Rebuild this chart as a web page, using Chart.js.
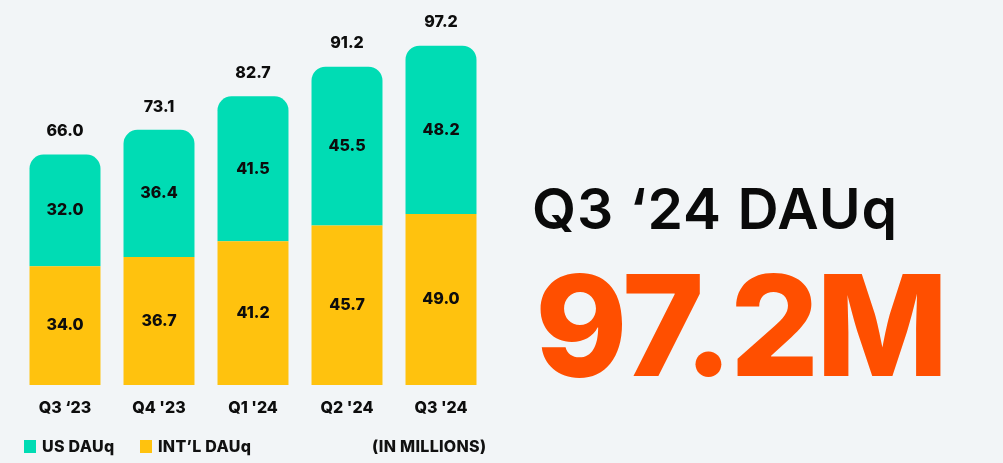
<!DOCTYPE html>
<html>
<head>
<meta charset="utf-8">
<script src="https://cdn.jsdelivr.net/npm/chart.js@4"></script>
<style>
  html, body { margin: 0; padding: 0; background: #f2f5f7; }
  body { width: 1003px; height: 463px; position: relative; overflow: hidden; font-family: Inter, Lato, sans-serif; }
  #wrap { position: absolute; left: 0; top: 0; width: 500px; height: 463px; }
  .legend { position: absolute; top: 436px; font-weight: 800; font-size: 16px; color: #111; letter-spacing: 0.3px; }
  .sw { display: inline-block; width: 12px; height: 13px; vertical-align: -1px; margin-right: 6px; }
  #title { position: absolute; left: 532px; top: 174px; font-size: 57px; font-weight: 600; color: #0a0a0a; letter-spacing: 1px; }
  #big { position: absolute; left: 535px; top: 241px; font-size: 140px; font-weight: 800; color: #ff4f00; letter-spacing: -3px; line-height: 1.2; }
</style>
</head>
<body>
<div id="wrap"><canvas id="chart"></canvas></div>
<div class="legend" style="left:24px"><span class="sw" style="background:#00dcb4"></span>US DAUq</div>
<div class="legend" style="left:140px"><span class="sw" style="background:#ffc20e"></span>INT’L DAUq</div>
<div class="legend" style="left:372px">(IN MILLIONS)</div>
<div id="title">Q3 ‘24 DAUq</div>
<div id="big">97.2M</div>
<script>
const quarters = ["Q3 ‘23", "Q4 '23", "Q1 '24", "Q2 '24", "Q3 '24"];
const intlDau = [34.0, 36.7, 41.2, 45.7, 49.0];
const usDau = [32.0, 36.4, 41.5, 45.5, 48.2];
const totalDau = [66.0, 73.1, 82.7, 91.2, 97.2];

// labels inside segments, totals on top, quarter names under bars
const labelPlugin = {
    id: 'labels',
    afterDatasetsDraw(chart) {
        const ctx = chart.ctx;
        const x = chart.scales.x;
        const y = chart.scales.y;
        ctx.save();
        ctx.fillStyle = '#0d0d0d';
        ctx.textAlign = 'center';
        ctx.textBaseline = 'middle';
        ctx.font = '800 16px Inter, Lato, sans-serif';
        quarters.forEach((q, i) => {
            const cx = x.getPixelForValue(i);
            const yellowMid = y.getPixelForValue(intlDau[i] / 2);
            const tealMid = y.getPixelForValue(intlDau[i] + usDau[i] / 2);
            ctx.fillText(intlDau[i].toFixed(1), cx, yellowMid);
            ctx.fillText(usDau[i].toFixed(1), cx, tealMid);
            ctx.fillText(totalDau[i].toFixed(1), cx, y.getPixelForValue(intlDau[i] + usDau[i]) - 23);
            ctx.fillText(q, cx, 408);
        });
        ctx.restore();
    }
};

new Chart(document.getElementById('chart'), {
    type: 'bar',
    data: {
        labels: quarters,
        datasets: [
            { label: "INT'L DAUq", data: intlDau, backgroundColor: '#ffc20e', borderRadius: 0 },
            { label: 'US DAUq', data: usDau, backgroundColor: '#00dcb4',
              borderRadius: { topLeft: 14, topRight: 14, bottomLeft: 0, bottomRight: 0 }, borderSkipped: false }
        ]
    },
    options: {
        responsive: true,
        maintainAspectRatio: false,
        animation: false,
        layout: { padding: { left: 18, right: 12, top: 1, bottom: 78 } },
        datasets: { bar: { barPercentage: 0.755, categoryPercentage: 1 } },
        plugins: { legend: { display: false }, tooltip: { enabled: false } },
        scales: {
            x: { stacked: true, display: false },
            y: { stacked: true, display: false, min: 0, max: 110 }
        }
    },
    plugins: [labelPlugin]
});
</script>
</body>
</html>
